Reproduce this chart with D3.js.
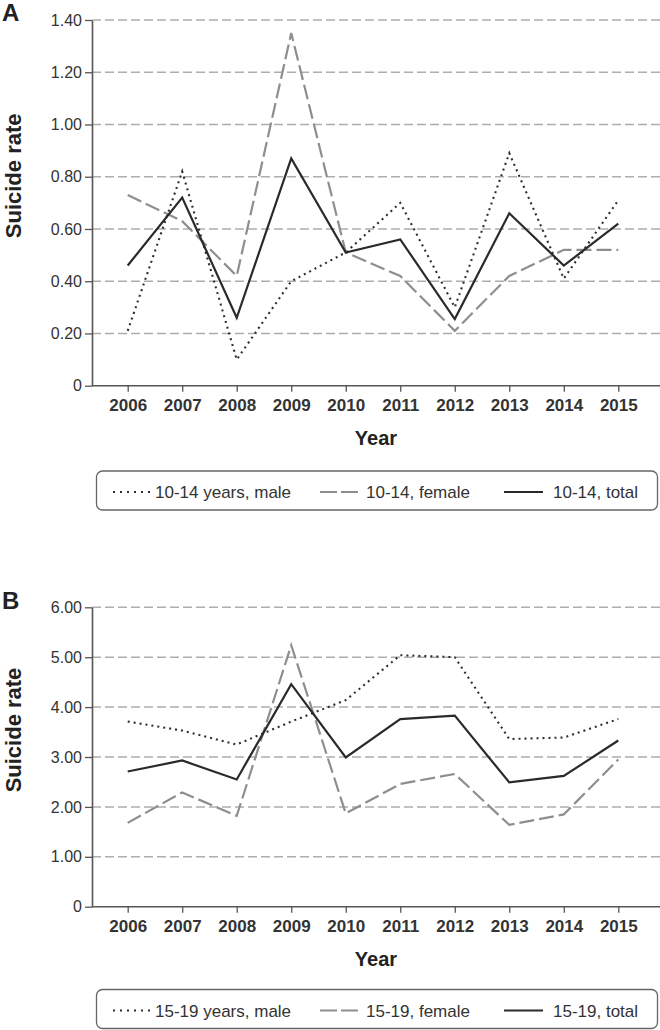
<!DOCTYPE html>
<html>
<head>
<meta charset="utf-8">
<script src="https://cdn.jsdelivr.net/npm/d3@7"></script>
<style>
  html, body { margin: 0; padding: 0; background: #fff; }
  svg { display: block; font-family: "Liberation Sans", Arial, Helvetica, sans-serif; }
</style>
</head>
<body>
<svg id="chart" width="660" height="1030"></svg>
<script>
const years = [2006, 2007, 2008, 2009, 2010, 2011, 2012, 2013, 2014, 2015];

// Panel A: 10-14 years
const maleA   = [0.21, 0.82, 0.10, 0.40, 0.51, 0.70, 0.30, 0.89, 0.41, 0.71];
const femaleA = [0.73, 0.63, 0.42, 1.35, 0.51, 0.42, 0.21, 0.42, 0.52, 0.52];
const totalA  = [0.46, 0.72, 0.26, 0.87, 0.51, 0.56, 0.255, 0.66, 0.46, 0.62];
const ticksA  = [0, 0.2, 0.4, 0.6, 0.8, 1.0, 1.2, 1.4];
const tickLabelsA = ["0", "0.20", "0.40", "0.60", "0.80", "1.00", "1.20", "1.40"];
const legendA = ["10-14 years, male", "10-14, female", "10-14, total"];

// Panel B: 15-19 years
const maleB   = [3.71, 3.53, 3.25, 3.71, 4.14, 5.04, 5.00, 3.36, 3.39, 3.76];
const femaleB = [1.68, 2.29, 1.82, 5.24, 1.87, 2.46, 2.66, 1.64, 1.85, 2.95];
const totalB  = [2.71, 2.93, 2.55, 4.46, 2.99, 3.76, 3.83, 2.49, 2.62, 3.33];
const ticksB  = [0, 1, 2, 3, 4, 5, 6];
const tickLabelsB = ["0", "1.00", "2.00", "3.00", "4.00", "5.00", "6.00"];
const legendB = ["15-19 years, male", "15-19, female", "15-19, total"];

const svg = d3.select("#chart");
const axisX = 92, rightX = 660;
const textCol = "#333";

const styles = [
  { stroke: "#2e2e2e", width: 2.1, dash: "2,4", legendDash: "2,5" },
  { stroke: "#8e8e8e", width: 2.2, dash: "15,5", legendDash: "17,4" },
  { stroke: "#2a2a2a", width: 2.2, dash: null, legendDash: null }
];

function panel(cfg) {
  const g = svg.append("g");
  const x = d3.scaleLinear().domain([2006, 2015]).range([127.7, 618.3]);
  const y = d3.scaleLinear().domain([0, cfg.ymax]).range([cfg.y0, cfg.yTop]);

  // panel letter
  g.append("text").attr("x", 2).attr("y", cfg.letterY)
    .attr("font-size", 24).attr("font-weight", "bold").attr("fill", "#222")
    .text(cfg.letter);

  // gridlines
  g.append("g").selectAll("line").data(cfg.ticks.filter(d => d > 0)).join("line")
    .attr("x1", axisX).attr("x2", rightX)
    .attr("y1", d => y(d)).attr("y2", d => y(d))
    .attr("stroke", "#adadad").attr("stroke-width", 1.5).attr("stroke-dasharray", "9,4");

  // y axis
  const yAxis = d3.axisLeft(y).tickValues(cfg.ticks)
    .tickFormat((d, i) => cfg.tickLabels[i]).tickSize(7).tickSizeOuter(0).tickPadding(3);
  const ya = g.append("g").attr("transform", `translate(${axisX},0)`).call(yAxis);
  ya.select(".domain").attr("stroke", "#555").attr("stroke-width", 1.6);
  ya.selectAll(".tick line").attr("stroke", "#555").attr("stroke-width", 1.3);
  ya.selectAll(".tick text").attr("font-size", 16).attr("fill", textCol)
    .attr("font-family", "Liberation Sans, Arial, sans-serif");

  // x axis
  const xAxis = d3.axisBottom(x).tickValues(years).tickFormat(d3.format("d"))
    .tickSize(6).tickSizeOuter(0).tickPadding(7);
  const xa = g.append("g").attr("transform", `translate(0,${cfg.y0})`).call(xAxis);
  xa.select(".domain").attr("d", `M${axisX},0H${rightX}`).attr("stroke", "#555").attr("stroke-width", 1.6);
  xa.selectAll(".tick line").attr("stroke", "#555").attr("stroke-width", 1.3);
  xa.selectAll(".tick text").attr("font-size", 17).attr("font-weight", "bold").attr("fill", textCol)
    .attr("font-family", "Liberation Sans, Arial, sans-serif");

  // axis titles
  g.append("text").attr("x", 376).attr("y", cfg.y0 + 59)
    .attr("text-anchor", "middle").attr("font-size", 20).attr("font-weight", "bold").attr("fill", "#222")
    .text("Year");
  g.append("text")
    .attr("transform", `translate(21,${(cfg.y0 + cfg.yTop) / 2 - 27}) rotate(-90)`)
    .attr("text-anchor", "middle").attr("font-size", 22).attr("font-weight", "bold").attr("fill", "#222")
    .text("Suicide rate");

  // lines
  const line = d3.line().x((d, i) => x(years[i])).y(d => y(d));
  cfg.series.forEach((s, k) => {
    const st = styles[k];
    g.append("path").datum(s).attr("d", line).attr("fill", "none")
      .attr("stroke", st.stroke).attr("stroke-width", st.width)
      .attr("stroke-dasharray", st.dash).attr("stroke-linejoin", "miter");
  });

  // legend
  const ly = cfg.legendTop;
  g.append("rect").attr("x", 96.5).attr("y", ly).attr("width", 561).attr("height", 39)
    .attr("rx", 6).attr("fill", "none").attr("stroke", "#666").attr("stroke-width", 1.3);
  const cy = ly + 21;
  const items = [
    { x1: 113, x2: 150, tx: 155 },
    { x1: 320, x2: 362, tx: 366 },
    { x1: 504, x2: 543, tx: 553 }
  ];
  items.forEach((it, k) => {
    const st = styles[k];
    g.append("line").attr("x1", it.x1).attr("x2", it.x2).attr("y1", cy).attr("y2", cy)
      .attr("stroke", st.stroke).attr("stroke-width", st.width)
      .attr("stroke-dasharray", st.legendDash);
    g.append("text").attr("x", it.tx).attr("y", cy + 6)
      .attr("font-size", 17).attr("fill", textCol).text(cfg.legend[k]);
  });
}

panel({ letter: "A", letterY: 21, ymax: 1.4, y0: 385.7, yTop: 20, ticks: ticksA, tickLabels: tickLabelsA,
        series: [maleA, femaleA, totalA], legend: legendA, legendTop: 471 });
panel({ letter: "B", letterY: 609, ymax: 6, y0: 906.7, yTop: 607.3, ticks: ticksB, tickLabels: tickLabelsB,
        series: [maleB, femaleB, totalB], legend: legendB, legendTop: 989.5 });
</script>
</body>
</html>
